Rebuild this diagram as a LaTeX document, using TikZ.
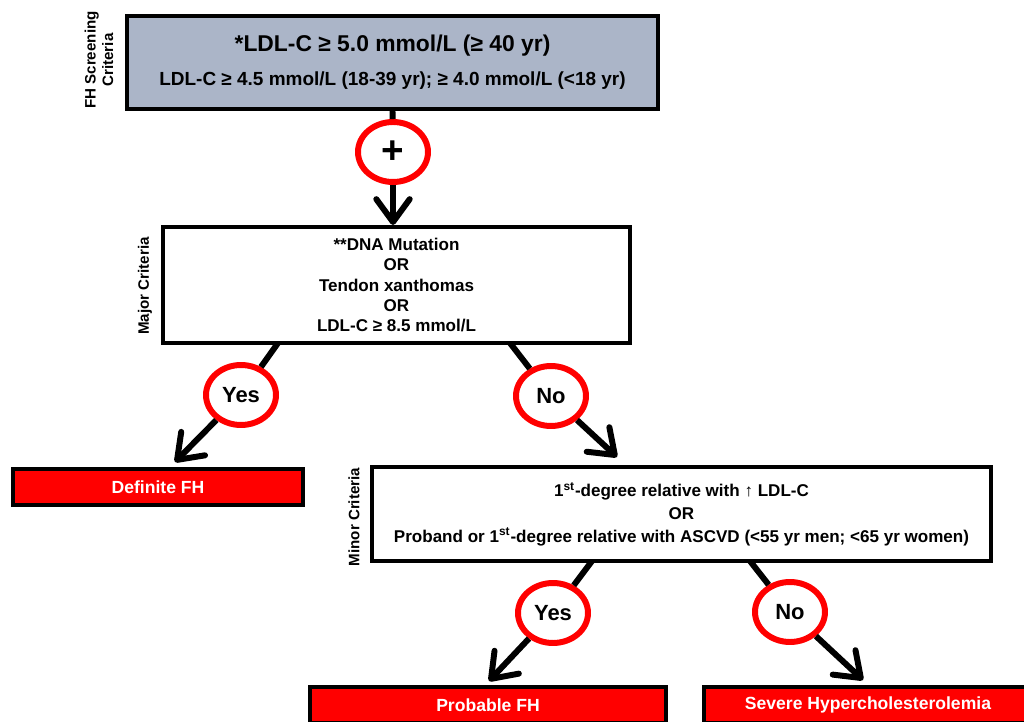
\documentclass[tikz,border=0pt]{standalone}
\usepackage{fontspec}
\setmainfont{Liberation Sans}
\usetikzlibrary{shapes.geometric, arrows.meta, positioning, calc}
\definecolor{rossoFH}{RGB}{255,0,0}
\definecolor{grigioFH}{RGB}{171,181,200}

\begin{document}
\begin{tikzpicture}[
  font=\bfseries,
  riquadro/.style={draw=black, line width=2.3pt, align=center, inner sep=2pt},
  criterio/.style={riquadro, fill=white, font=\fontsize{9.7}{11.6}\selectfont\bfseries},
  esito/.style={riquadro, fill=rossoFH, text=white, minimum height=0.72cm,
                font=\fontsize{10}{12}\selectfont\bfseries},
  cerchio/.style={ellipse, draw=rossoFH, line width=3.4pt, fill=white,
                  minimum width=1.40cm, minimum height=1.20cm, inner sep=0pt,
                  font=\fontsize{12.5}{14}\selectfont\bfseries},
  etichetta/.style={rotate=90, align=center, font=\fontsize{8.6}{10}\selectfont\bfseries},
  collegamento/.style={draw=black, line width=3.4pt},
  freccia/.style={collegamento, -{Straight Barb[length=13pt, width=19pt, round]}}
]

% cornice fissa, con le stesse proporzioni dell'originale
\useasboundingbox (0,0) rectangle (20.48,14.42);

% ---- criteri di screening --------------------------------------------
\node[riquadro, fill=grigioFH, minimum width=10.62cm, minimum height=1.86cm] (screening) at (7.85,13.17)
  {\fontsize{13}{15}\selectfont *LDL-C ≥ 5.0 mmol/L (≥ 40 yr)\\[7.5pt]
   \fontsize{10.8}{13}\selectfont LDL-C ≥ 4.5 mmol/L (18-39 yr); ≥ 4.0 mmol/L (<18 yr)};
\node[etichetta] (lblScreening) at (1.98,13.22) {FH Screening\\Criteria};

\node[cerchio, font=\fontsize{22}{22}\selectfont\bfseries] (piu) at (7.86,11.38) {+};

% ---- criteri maggiori ------------------------------------------------
\node[criterio, minimum width=9.34cm, minimum height=2.32cm] (maggiore) at (7.93,8.72)
  {**DNA Mutation\\OR\\Tendon xanthomas\\OR\\LDL-C ≥ 8.5 mmol/L};
\node[etichetta] (lblMaggiore) at (2.90,8.70) {Major Criteria};

\node[cerchio] (si1) at (4.82,6.52) {Yes};
\node[cerchio] (no1) at (11.02,6.50) {No};

\node[esito, minimum width=5.80cm] (definita) at (3.16,4.68) {Definite FH};

% ---- criteri minori --------------------------------------------------
\node[criterio, minimum width=12.38cm, minimum height=1.88cm,
      font=\fontsize{9.7}{13}\selectfont\bfseries] (minore) at (13.63,4.14)
  {1\textsuperscript{st}-degree relative with ↑ LDL-C\\OR\\
   Proband or 1\textsuperscript{st}-degree relative with ASCVD (<55 yr men; <65 yr women)};
\node[etichetta] (lblMinore) at (7.08,4.08) {Minor Criteria};

\node[cerchio] (si2) at (11.06,2.16) {Yes};
\node[cerchio] (no2) at (15.80,2.18) {No};

\node[esito, minimum width=7.12cm] (probabile) at (9.76,0.32) {Probable FH};
\node[esito, minimum width=6.56cm] (severa) at (17.36,0.32) {Severe Hypercholesterolemia};

% ---- punti di attacco sui riquadri -----------------------------------
\coordinate (mSi) at (5.56,7.56);
\coordinate (mNo) at (10.20,7.56);
\coordinate (puntaDef) at (3.50,5.18);
\coordinate (puntaMin) at (12.34,5.28);
\coordinate (nSi) at (11.84,3.20);
\coordinate (nNo) at (15.00,3.20);
\coordinate (puntaProb) at (9.78,0.80);
\coordinate (puntaSev) at (17.26,0.82);

% ---- collegamenti ----------------------------------------------------
\draw[collegamento] (screening.south) -- (piu);
\draw[freccia] (piu) -- (piu |- maggiore.north);
\draw[collegamento] (mSi) -- (si1);
\draw[freccia] (si1) -- (puntaDef);
\draw[collegamento] (mNo) -- (no1);
\draw[freccia] (no1) -- (puntaMin);
\draw[collegamento] (nSi) -- (si2);
\draw[freccia] (si2) -- (puntaProb);
\draw[collegamento] (nNo) -- (no2);
\draw[freccia] (no2) -- (puntaSev);

\end{tikzpicture}
\end{document}
